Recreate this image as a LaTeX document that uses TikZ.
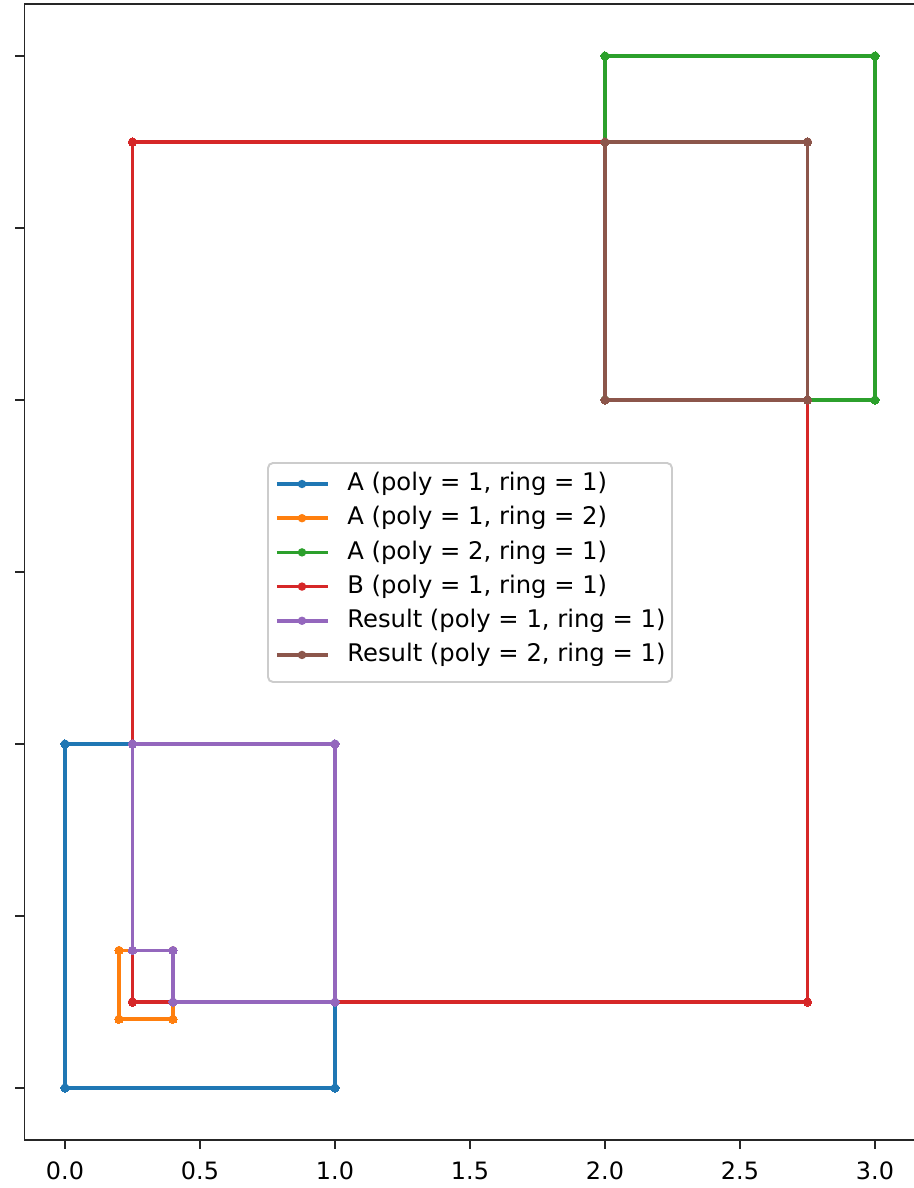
\documentclass[tikz,border=0pt]{standalone}
\usepackage{fontspec}
\setmainfont{DejaVu Sans}
\usetikzlibrary{positioning,calc}
\definecolor{tabblue}{HTML}{1F77B4}
\definecolor{taborange}{HTML}{FF7F0E}
\definecolor{tabgreen}{HTML}{2CA02C}
\definecolor{tabred}{HTML}{D62728}
\definecolor{tabpurple}{HTML}{9467BD}
\definecolor{tabbrown}{HTML}{8C564B}

\begin{document}
\begin{tikzpicture}[
  x=5.4cm, y=6.88cm,
  ring/.style={line width=2.1pt, line join=round, mark=*,
               mark size=2.4pt, mark options={line width=0pt}},
  frame/.style={line width=1.1pt, black!85},
  ticklabel/.style={inner sep=0pt, font=\fontsize{13.6}{16}\selectfont},
  legendtext/.style={inner sep=0pt, anchor=west, font=\fontsize{13.8}{16}\selectfont},
]
  \useasboundingbox (-0.2407,-0.2907) rectangle (3.1444,3.1628);

  % rings
  \draw[ring, tabblue] plot coordinates {(0,0) (1,0) (1,1) (0,1) (0,0)};
  \draw[ring, taborange] plot coordinates {(0.2,0.2) (0.4,0.2) (0.4,0.4) (0.2,0.4) (0.2,0.2)};
  \draw[ring, tabgreen] plot coordinates {(2,2) (3,2) (3,3) (2,3) (2,2)};
  \draw[ring, tabred] plot coordinates {(0.25,0.25) (2.75,0.25) (2.75,2.75) (0.25,2.75) (0.25,0.25)};
  \draw[ring, tabpurple] plot coordinates {(0.25,1) (1,1) (1,0.25) (0.4,0.25) (0.4,0.4) (0.25,0.4) (0.25,1)};
  \draw[ring, tabbrown] plot coordinates {(2,2) (2.75,2) (2.75,2.75) (2,2.75) (2,2)};

  % axes
  \draw[frame] (-0.15,-0.15) rectangle (3.15,3.15);
  \foreach \y in {0,0.5,...,3}
    \draw[frame] (-0.15,\y) -- ++(-0.18cm,0);
  \foreach \x [count=\i] in {0.0,0.5,1.0,1.5,2.0,2.5,3.0} {
    \draw[frame] (\x,-0.15) -- ++(0,-0.18cm);
    \node[ticklabel] (xt\i) at (\x,-0.2413) {\x};
  }

  % legend
  \draw[draw=black!20, fill=white, fill opacity=0.8, line width=1.1pt,
        rounded corners=0.1cm] (0.7519,1.1802) rectangle (2.2481,1.8169);
  \foreach \c/\t [count=\i] in {tabblue/{A (poly = 1, ring = 1)},
      taborange/{A (poly = 1, ring = 2)}, tabgreen/{A (poly = 2, ring = 1)},
      tabred/{B (poly = 1, ring = 1)}, tabpurple/{Result (poly = 1, ring = 1)},
      tabbrown/{Result (poly = 2, ring = 1)}} {
    \coordinate (s\i) at (0.7852,{1.7558-0.0994*(\i-1)});
    \draw[line width=2.1pt, \c] (s\i) -- ++(0.1889,0);
    \fill[\c] ($(s\i)+(0.0926,0)$) circle (2.4pt);
    \node[legendtext] (leg\i) at ([xshift=1.40cm]s\i) {\t};
  }
\end{tikzpicture}
\end{document}
